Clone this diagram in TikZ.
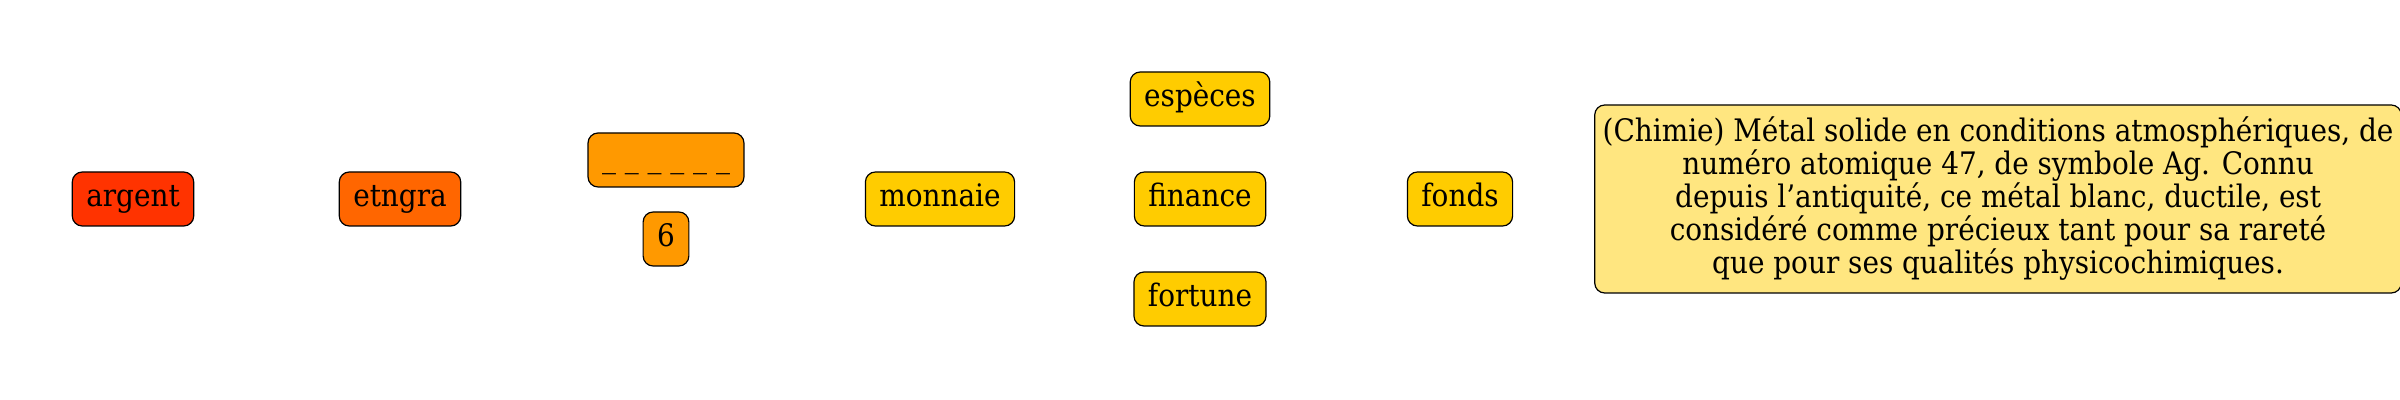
\documentclass[tikz,border=0pt]{standalone}
\usepackage{fontspec}
\setmainfont{DejaVu Serif Condensed}
\usetikzlibrary{positioning}
\definecolor{rouge}{HTML}{FF3300}
\definecolor{orange}{HTML}{FF6600}
\definecolor{ambre}{HTML}{FF9900}
\definecolor{jaune}{HTML}{FFCC00}
\definecolor{pale}{HTML}{FFE680}
\tikzset{mot/.style={draw=black,line width=0.6pt,rounded corners=5pt,inner xsep=7pt,
    minimum height=27pt,text height=11pt,text depth=3pt}}
\tikzset{defn/.style={draw=black,line width=0.6pt,rounded corners=5pt,fill=pale,align=center,
    inner xsep=4pt,minimum height=94pt}}

\begin{document}
\begin{tikzpicture}[font=\fontsize{15.5}{16.5}\selectfont,on grid]
        \useasboundingbox (0,0) rectangle (1200pt,-200pt);
        \clip (0,0) rectangle (1200pt,-200pt);
        \node(argent)[mot,fill=rouge] at (66.5pt,-99.5pt){argent};
        \node(etngra)[mot,fill=orange,right=133.5pt of argent]{etngra};
        \node(blanc)[mot,fill=ambre,above right=19.5pt and 133pt of etngra]{\_ \_ \_ \_ \_ \_};
        \node(six)[mot,fill=ambre,below=39.5pt of blanc]{6};
        \node(monnaie)[mot,fill=jaune,right=270pt of etngra]{monnaie};
        \node(finance)[mot,fill=jaune,right=130pt of monnaie]{finance};
        \node(especes)[mot,fill=jaune,above=50pt of finance]{espèces};
        \node(fortune)[mot,fill=jaune,below=50pt of finance]{fortune};
        \node(fonds)[mot,fill=jaune,right=130pt of finance]{fonds};
        \node(def)[defn,right=269pt of fonds]{(Chimie) Métal solide en conditions atmosphériques, de\\
          numéro atomique 47, de symbole Ag. Connu\\
          depuis l’antiquité, ce métal blanc, ductile, est\\
          considéré comme précieux tant pour sa rareté\\
          que pour ses qualités physicochimiques.};
      \end{tikzpicture}
\end{document}
